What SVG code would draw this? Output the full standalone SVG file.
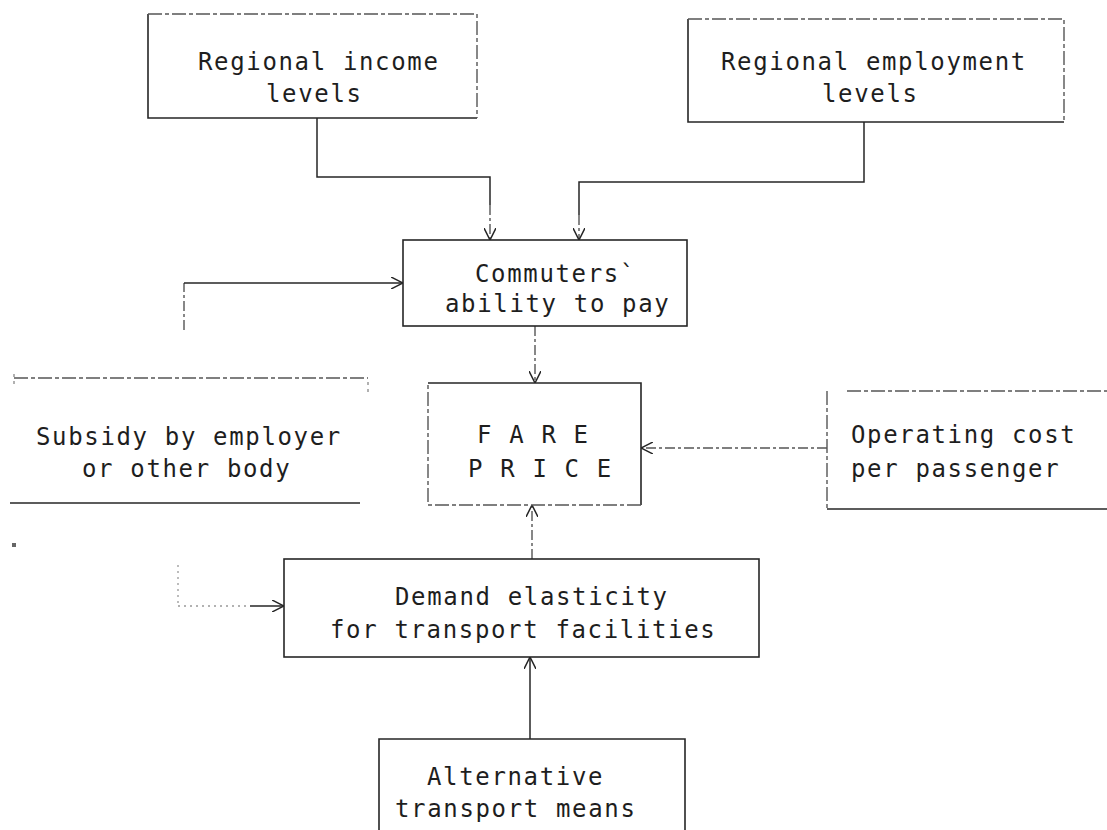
<svg xmlns="http://www.w3.org/2000/svg" width="1107" height="830" viewBox="0 0 1107 830">
<defs>
<style>
.t{font-family:"DejaVu Sans Mono","Liberation Mono",monospace;font-size:24px;letter-spacing:1.65px;fill:#1e1e1e}
.s{stroke:#262626;stroke-width:1.6;fill:none}
.d{stroke:#555;stroke-width:1.4;fill:none;stroke-dasharray:14 3 4 3}
.f{stroke:#888;stroke-width:1.3;fill:none;stroke-dasharray:3 4}
.c{stroke:#262626;stroke-width:1.5;fill:none}
.cd{stroke:#555;stroke-width:1.4;fill:none;stroke-dasharray:10 3 3 3}
.cf{stroke:#999;stroke-width:1.3;fill:none;stroke-dasharray:2 4}
</style>
<marker id="ah" viewBox="0 0 12 12" refX="12" refY="6" markerWidth="12" markerHeight="12" markerUnits="userSpaceOnUse" orient="auto">
<path d="M0,0 L12,6 L0,12" fill="none" stroke="#262626" stroke-width="1.5"/>
</marker>
</defs>
<rect width="1107" height="830" fill="#fff"/>

<g id="connectors">
<path class="c" d="M317,118 V177 H490 V205"/>
<path class="cd" d="M490,205 V240" marker-end="url(#ah)"/>
<path class="c" d="M864,122 V182 H579 V215"/>
<path class="cd" d="M579,215 V240" marker-end="url(#ah)"/>
<path class="cd" d="M184,330 V283"/>
<path class="c" d="M184,283 H403" marker-end="url(#ah)"/>
<path class="cd" d="M535,326 V383" marker-end="url(#ah)"/>
<path class="cd" d="M827,448 H641" marker-end="url(#ah)"/>
<path class="cd" d="M532,559 V505" marker-end="url(#ah)"/>
<path class="cf" d="M178,565 V607"/>
<path class="cf" d="M178,606 H250"/>
<path class="c" d="M250,606 H284" marker-end="url(#ah)"/>
<path class="c" d="M530,739 V657" marker-end="url(#ah)"/>
</g>

<g id="regional-income">
<path class="s" d="M148,14 V118 H477"/>
<path class="d" d="M148,14 H477 V118"/>
<text class="t" x="198" y="70">Regional income</text>
<text class="t" x="266" y="102">levels</text>
</g>

<g id="regional-employment">
<path class="s" d="M688,19 V122 H1064"/>
<path class="d" d="M688,19 H1064 V122"/>
<text class="t" x="721" y="70">Regional employment</text>
<text class="t" x="822" y="102">levels</text>
</g>

<g id="commuters">
<rect class="s" x="403" y="240" width="284" height="86"/>
<text class="t" x="475" y="282">Commuters`</text>
<text class="t" x="445" y="312">ability to pay</text>
</g>

<g id="fare-price">
<path class="s" d="M428,383 H641 V505"/>
<path class="d" d="M641,505 H428 V383"/>
<text class="t" x="477" y="443">F A R E</text>
<text class="t" x="468" y="477">P R I C E</text>
</g>

<g id="subsidy">
<path class="d" d="M14,378 H368"/>
<path class="f" d="M14,374 V387"/>
<path class="f" d="M368,382 V394"/>
<path class="s" d="M10,503 H360"/>
<text class="t" x="36" y="445">Subsidy by employer</text>
<text class="t" x="82" y="477">or other body</text>
<rect x="12" y="543" width="4" height="4" fill="#666"/>
</g>

<g id="operating-cost">
<path class="d" d="M847,391 H1107"/>
<path class="d" d="M827,391 V509"/>
<path class="s" d="M827,509 H1107"/>
<text class="t" x="851" y="443">Operating cost</text>
<text class="t" x="851" y="477">per passenger</text>
</g>

<g id="demand-elasticity">
<rect class="s" x="284" y="559" width="475" height="98"/>
<text class="t" x="395" y="605">Demand elasticity</text>
<text class="t" x="330" y="638">for transport facilities</text>
</g>

<g id="alternative-transport">
<path class="s" d="M379,832 V739 H685 V832"/>
<text class="t" x="427" y="785">Alternative</text>
<text class="t" x="395" y="817">transport means</text>
</g>
</svg>
